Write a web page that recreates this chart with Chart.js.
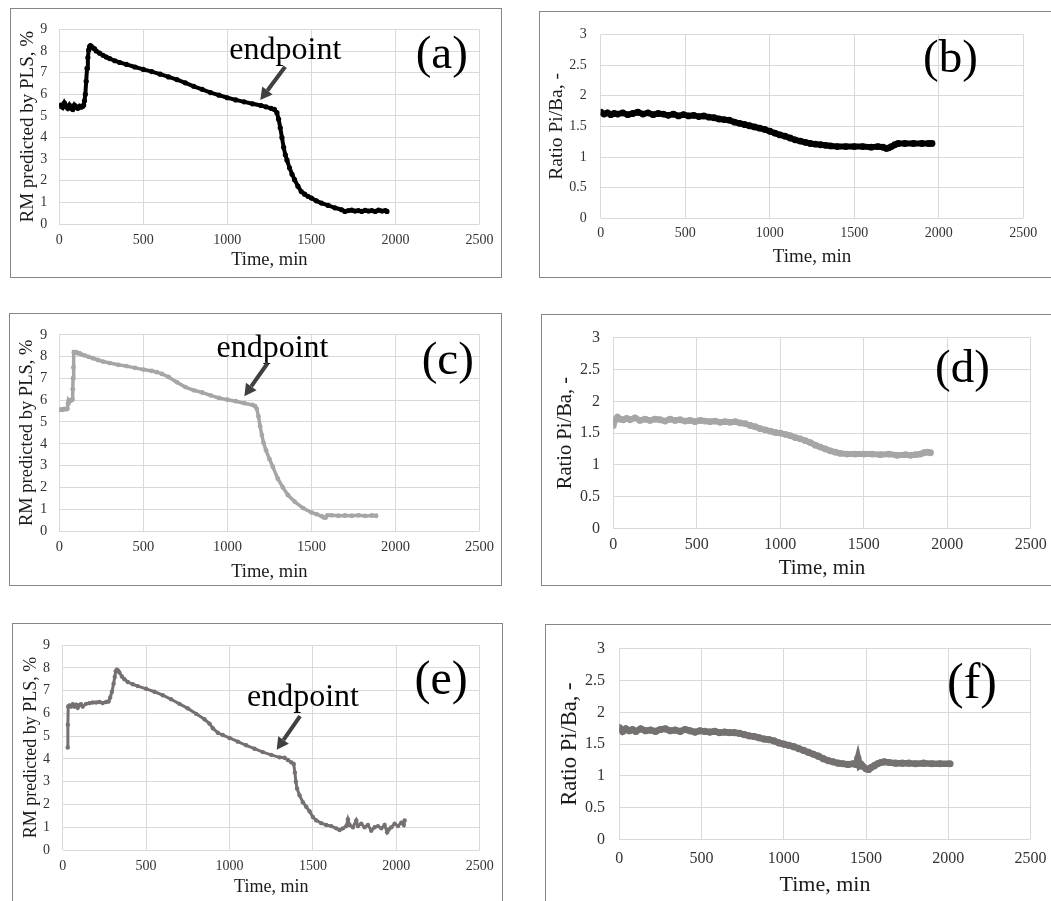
<!DOCTYPE html>
<html lang="en">
<head>
<meta charset="UTF-8">
<title>RM predicted by PLS and Pi/Ba ratio vs time</title>
<script src="https://cdn.jsdelivr.net/npm/chart.js@4.4.1/dist/chart.umd.min.js"></script>
<style>
  html, body { margin: 0; padding: 0; background: #fff; overflow: hidden; width: 1051px; height: 901px; }
  .panel { position: absolute; box-sizing: border-box; border: 1px solid #868686; background: #fff; }
  .panel canvas { display: block; }
</style>
</head>
<body>
<div class="panel" style="left:10px;top:8px;width:492px;height:270px"><canvas id="chart-a"></canvas></div>
<div class="panel" style="left:539px;top:11px;width:518px;height:267px"><canvas id="chart-b"></canvas></div>
<div class="panel" style="left:9px;top:313px;width:493px;height:273px"><canvas id="chart-c"></canvas></div>
<div class="panel" style="left:541px;top:314px;width:516px;height:272px"><canvas id="chart-d"></canvas></div>
<div class="panel" style="left:12px;top:623px;width:491px;height:283px"><canvas id="chart-e"></canvas></div>
<div class="panel" style="left:545px;top:624px;width:512px;height:282px"><canvas id="chart-f"></canvas></div>

<script>
// axis ticks
const timeTicks  = [0, 500, 1000, 1500, 2000, 2500];
const rmTicks    = [0, 1, 2, 3, 4, 5, 6, 7, 8, 9];
const ratioTicks = [0, 0.5, 1, 1.5, 2, 2.5, 3];

// batch 1 - RM (a)
const rm1Time  = [0,10,20,30,40,50,60,70,80,90,100,110,120,130,140,145,150,155,160,165,170,175,180,185,190,200,210,220,240,260,280,300,330,360,400,450,500,550,600,650,700,750,800,850,900,950,1000,1050,1100,1150,1200,1230,1260,1280,1295,1305,1315,1325,1335,1345,1355,1370,1385,1400,1420,1440,1460,1480,1500,1530,1560,1600,1640,1680,1700,1720,1740,1760,1780,1800,1820,1840,1860,1880,1900,1920,1940,1950];
const rm1Value = [5.45,5.5,5.4,5.6,5.45,5.35,5.5,5.35,5.3,5.5,5.4,5.35,5.45,5.4,5.45,5.5,5.7,6.0,6.6,7.2,7.7,8.05,8.2,8.25,8.22,8.15,8.1,8.0,7.9,7.8,7.72,7.65,7.55,7.47,7.38,7.26,7.15,7.05,6.93,6.8,6.68,6.53,6.37,6.23,6.08,5.96,5.84,5.74,5.65,5.56,5.48,5.42,5.35,5.3,5.15,4.85,4.45,4.0,3.55,3.2,2.95,2.6,2.3,2.05,1.75,1.5,1.38,1.28,1.2,1.07,0.97,0.86,0.75,0.66,0.58,0.62,0.64,0.6,0.62,0.58,0.63,0.6,0.62,0.58,0.64,0.6,0.62,0.58];

// batch 1 - Pi/Ba ratio (b)
const ratio1Time  = [0,20,40,60,80,100,130,160,190,220,250,280,310,340,370,400,430,460,490,520,550,580,610,640,670,700,730,760,790,820,850,880,910,940,970,1000,1030,1060,1090,1120,1150,1180,1210,1240,1270,1300,1330,1360,1400,1450,1500,1550,1600,1640,1670,1690,1705,1720,1740,1760,1800,1850,1900,1940,1960];
const ratio1Value = [1.73,1.70,1.72,1.69,1.71,1.70,1.72,1.69,1.71,1.73,1.70,1.72,1.69,1.71,1.70,1.68,1.70,1.67,1.69,1.67,1.68,1.66,1.67,1.65,1.64,1.62,1.61,1.60,1.57,1.55,1.53,1.51,1.49,1.47,1.45,1.42,1.39,1.36,1.34,1.31,1.28,1.26,1.24,1.22,1.21,1.20,1.19,1.18,1.17,1.17,1.17,1.17,1.16,1.17,1.16,1.14,1.15,1.17,1.20,1.22,1.22,1.22,1.22,1.22,1.22];

// batch 2 - RM (c)
const rm2Time  = [0,10,20,30,40,48,52,56,62,68,74,78,80,82,84,87,92,100,110,120,130,150,175,200,230,260,300,350,400,450,500,550,580,610,650,700,750,800,850,900,950,1000,1050,1100,1150,1165,1175,1185,1195,1205,1215,1230,1250,1270,1300,1330,1360,1400,1450,1500,1530,1560,1575,1585,1595,1620,1660,1700,1740,1780,1820,1860,1885];
const rm2Value = [5.55,5.57,5.55,5.6,5.58,5.6,5.85,6.0,5.95,6.0,6.0,6.05,6.5,7.0,7.5,8.2,8.18,8.2,8.15,8.15,8.1,8.05,7.98,7.92,7.84,7.77,7.7,7.62,7.56,7.48,7.40,7.34,7.28,7.2,7.06,6.82,6.6,6.45,6.35,6.22,6.1,6.02,5.95,5.86,5.78,5.72,5.6,5.25,4.8,4.4,4.05,3.7,3.3,2.95,2.4,2.0,1.65,1.35,1.05,0.85,0.77,0.68,0.62,0.62,0.72,0.72,0.7,0.71,0.7,0.72,0.69,0.71,0.7];

// batch 2 - Pi/Ba ratio (d)
const ratio2Time  = [0,5,15,25,40,60,80,100,130,160,190,220,250,280,310,340,370,400,430,460,490,520,550,580,610,640,670,700,730,760,790,820,850,880,910,940,970,1000,1030,1060,1090,1120,1150,1180,1210,1240,1270,1300,1330,1360,1400,1450,1500,1550,1600,1650,1700,1750,1780,1810,1840,1860,1880,1900];
const ratio2Value = [1.62,1.68,1.72,1.75,1.72,1.71,1.73,1.71,1.74,1.70,1.72,1.70,1.72,1.71,1.69,1.72,1.70,1.71,1.69,1.70,1.68,1.70,1.69,1.68,1.69,1.67,1.68,1.67,1.68,1.66,1.65,1.62,1.60,1.57,1.55,1.53,1.51,1.50,1.48,1.46,1.43,1.41,1.38,1.35,1.31,1.28,1.25,1.22,1.20,1.18,1.17,1.17,1.17,1.17,1.16,1.17,1.15,1.16,1.15,1.16,1.17,1.19,1.20,1.19];

// batch 3 - RM (e)
const rm3Time  = [30,31,33,40,50,60,70,80,90,100,110,120,140,160,180,200,220,240,260,275,285,295,305,312,318,325,332,340,355,370,390,420,450,500,550,600,650,700,750,800,850,880,900,930,960,1000,1050,1100,1150,1200,1250,1300,1330,1350,1370,1385,1392,1398,1405,1420,1440,1460,1480,1500,1520,1550,1580,1610,1640,1660,1680,1700,1710,1720,1740,1760,1770,1790,1810,1830,1850,1870,1890,1910,1930,1945,1955,1970,1990,2010,2030,2045,2050];
const rm3Value = [4.5,5.5,6.3,6.35,6.3,6.4,6.3,6.38,6.25,6.37,6.4,6.3,6.42,6.45,6.48,6.48,6.5,6.46,6.5,6.52,6.7,6.95,7.3,7.6,7.85,7.92,7.88,7.8,7.62,7.5,7.38,7.28,7.2,7.08,6.95,6.8,6.62,6.42,6.22,5.98,5.74,5.55,5.35,5.15,5.05,4.92,4.76,4.6,4.45,4.3,4.18,4.07,4.05,3.95,3.85,3.78,3.4,3.0,2.7,2.4,2.1,1.9,1.7,1.45,1.3,1.18,1.1,1.05,0.95,0.88,0.95,1.05,1.35,1.1,1.0,1.3,1.05,1.15,1.0,1.1,0.85,1.0,1.05,0.95,1.1,0.78,0.9,1.0,1.15,1.05,1.2,1.1,1.3];

// batch 3 - Pi/Ba ratio (f)
const ratio3Time  = [0,20,40,60,80,100,130,160,190,220,250,280,310,340,370,400,430,460,490,520,550,580,610,640,670,700,730,760,790,820,850,880,910,940,970,1000,1030,1060,1090,1120,1150,1180,1210,1240,1270,1300,1330,1360,1390,1420,1440,1450,1455,1460,1470,1480,1500,1515,1530,1550,1570,1590,1610,1640,1680,1720,1760,1800,1850,1900,1950,2010];
const ratio3Value = [1.76,1.70,1.74,1.71,1.73,1.70,1.74,1.71,1.72,1.70,1.73,1.74,1.71,1.72,1.70,1.73,1.71,1.69,1.71,1.70,1.69,1.70,1.68,1.69,1.68,1.68,1.67,1.65,1.63,1.62,1.60,1.58,1.57,1.55,1.52,1.50,1.48,1.46,1.43,1.40,1.37,1.34,1.31,1.27,1.24,1.22,1.20,1.19,1.18,1.19,1.18,1.28,1.22,1.16,1.18,1.15,1.11,1.10,1.13,1.16,1.19,1.21,1.22,1.21,1.20,1.20,1.20,1.19,1.20,1.19,1.19,1.19];

const FONT = '"Liberation Serif", "Times New Roman", serif';
const GRID = '#d9d9d9';

// letters, "endpoint" text and arrows, anchored in data units
const notesPlugin = {
  id: 'notes',
  afterDraw(chart, args, opts) {
    const { ctx, scales: { x, y } } = chart;
    ctx.save();
    ctx.textAlign = 'left';
    ctx.textBaseline = 'alphabetic';
    ctx.fillStyle = '#000';
    ctx.font = opts.letterSize + 'px ' + FONT;
    ctx.fillText(opts.letter, x.getPixelForValue(opts.letterAt[0]), y.getPixelForValue(opts.letterAt[1]));
    if (opts.textAt) {
      ctx.font = opts.textSize + 'px ' + FONT;
      ctx.fillText('endpoint', x.getPixelForValue(opts.textAt[0]), y.getPixelForValue(opts.textAt[1]));
      const x0 = x.getPixelForValue(opts.arrowFrom[0]), y0 = y.getPixelForValue(opts.arrowFrom[1]);
      const x1 = x.getPixelForValue(opts.arrowTo[0]),   y1 = y.getPixelForValue(opts.arrowTo[1]);
      const ang = Math.atan2(y1 - y0, x1 - x0);
      const head = 12, half = 6.5;
      const bx = x1 - head * Math.cos(ang), by = y1 - head * Math.sin(ang);
      ctx.strokeStyle = '#404040';
      ctx.fillStyle = '#404040';
      ctx.lineWidth = 4;
      ctx.beginPath();
      ctx.moveTo(x0, y0);
      ctx.lineTo(bx, by);
      ctx.stroke();
      ctx.beginPath();
      ctx.moveTo(x1, y1);
      ctx.lineTo(bx + half * Math.sin(ang), by - half * Math.cos(ang));
      ctx.lineTo(bx - half * Math.sin(ang), by + half * Math.cos(ang));
      ctx.closePath();
      ctx.fill();
    }
    ctx.restore();
  }
};

function makePanel(id, c) {
  const points = c.time.map((t, i) => ({ x: t, y: c.value[i] }));
  const yTicks = c.kind === 'rm' ? rmTicks : ratioTicks;
  return new Chart(document.getElementById(id), {
    type: 'scatter',
    data: {
      datasets: [{
        data: points,
        showLine: true,
        borderColor: c.color,
        backgroundColor: c.color,
        borderWidth: c.lw,
        pointRadius: c.pr,
        pointBorderWidth: 0,
        tension: 0
      }]
    },
    options: {
      responsive: true,
      maintainAspectRatio: false,
      animation: false,
      events: [],
      layout: { padding: { top: c.padTop, right: c.padRight, left: 0, bottom: 0 } },
      plugins: {
        legend: { display: false },
        tooltip: { enabled: false },
        notes: c.notes
      },
      scales: {
        x: {
          type: 'linear',
          min: 0, max: 2500,
          afterBuildTicks: s => { s.ticks = timeTicks.map(v => ({ value: v })); },
          afterFit: s => { s.height = c.xH; },
          grid: { color: GRID, drawTicks: false },
          border: { display: false },
          ticks: {
            autoSkip: false, maxRotation: 0,
            padding: c.xTickPad,
            color: '#333333',
            font: { family: FONT, size: c.tickSize },
            callback: v => String(v)
          },
          title: {
            display: true, text: 'Time, min', color: '#1a1a1a',
            font: { family: FONT, size: c.xTitleSize },
            padding: { top: 0, bottom: c.xTitlePad }
          }
        },
        y: {
          type: 'linear',
          min: 0, max: yTicks[yTicks.length - 1],
          afterBuildTicks: s => { s.ticks = yTicks.map(v => ({ value: v })); },
          afterFit: s => { s.width = c.yW; },
          grid: { color: GRID, drawTicks: false },
          border: { display: false },
          ticks: {
            autoSkip: false,
            padding: c.yTickPad,
            color: '#333333',
            font: { family: FONT, size: c.tickSize },
            callback: v => String(v)
          },
          title: {
            display: true,
            text: c.kind === 'rm' ? 'RM predicted by PLS, %' : 'Ratio Pi/Ba, -',
            color: '#1a1a1a',
            font: { family: FONT, size: c.yTitleSize },
            padding: { top: c.yTitlePad, bottom: 0 }
          }
        }
      }
    },
    plugins: [notesPlugin]
  });
}

makePanel('chart-a', {
  kind: 'rm', time: rm1Time, value: rm1Value, color: '#000000', lw: 4, pr: 2.6,
  yW: 48.3, padTop: 11, padRight: 20, xH: 53,
  tickSize: 14, xTickPad: 7.6, yTickPad: 12,
  xTitleSize: 18.5, xTitlePad: 5.9, yTitleSize: 19, yTitlePad: 5.9,
  notes: { letter: '(a)', letterSize: 47, letterAt: [2121, 7.23],
           textSize: 32, textAt: [1012, 7.65], arrowFrom: [1344, 7.27], arrowTo: [1196, 5.73] }
});

makePanel('chart-b', {
  kind: 'ratio', time: ratio1Time, value: ratio1Value, color: '#000000', lw: 6, pr: 3.4,
  yW: 60.7, padTop: 13.7, padRight: 32.7, xH: 58.7,
  tickSize: 14, xTickPad: 6.6, yTickPad: 14,
  xTitleSize: 19, xTitlePad: 8.9, yTitleSize: 19.5, yTitlePad: 5,
  notes: { letter: '(b)', letterSize: 47, letterAt: [1907, 2.39] }
});

makePanel('chart-c', {
  kind: 'rm', time: rm2Time, value: rm2Value, color: '#a6a6a6', lw: 3.5, pr: 2.4,
  yW: 49.3, padTop: 10.3, padRight: 20, xH: 54,
  tickSize: 14.5, xTickPad: 7, yTickPad: 12,
  xTitleSize: 18.5, xTitlePad: 2.2, yTitleSize: 18.5, yTitlePad: 5.6,
  notes: { letter: '(c)', letterSize: 47, letterAt: [2156, 7.20],
           textSize: 32, textAt: [935, 7.99], arrowFrom: [1239, 7.69], arrowTo: [1101, 6.18] }
});

makePanel('chart-d', {
  kind: 'ratio', time: ratio2Time, value: ratio2Value, color: '#a6a6a6', lw: 6, pr: 3.4,
  yW: 71.3, padTop: 10, padRight: 25.3, xH: 56.7,
  tickSize: 16, xTickPad: 7.1, yTickPad: 13.3,
  xTitleSize: 21, xTitlePad: 4.1, yTitleSize: 20.5, yTitlePad: 11.4,
  notes: { letter: '(d)', letterSize: 47, letterAt: [1927, 2.31] }
});

makePanel('chart-e', {
  kind: 'rm', time: rm3Time, value: rm3Value, color: '#767171', lw: 3, pr: 2.2,
  yW: 49.7, padTop: 9.3, padRight: 19.3, xH: 55,
  tickSize: 14, xTickPad: 8.3, yTickPad: 12.7,
  xTitleSize: 18, xTitlePad: 7.2, yTitleSize: 18, yTitlePad: 7.9,
  notes: { letter: '(e)', letterSize: 48, letterAt: [2109, 6.87],
           textSize: 32, textAt: [1105, 6.33], arrowFrom: [1423, 5.88], arrowTo: [1283, 4.40] }
});

makePanel('chart-f', {
  kind: 'ratio', time: ratio3Time, value: ratio3Value, color: '#767171', lw: 6.5, pr: 3.6,
  yW: 73.3, padTop: 11.7, padRight: 21.7, xH: 65.7,
  tickSize: 16, xTickPad: 9.4, yTickPad: 14.3,
  xTitleSize: 22, xTitlePad: 6.8, yTitleSize: 22.5, yTitlePad: 10.5,
  notes: { letter: '(f)', letterSize: 50, letterAt: [1992, 2.22] }
});
</script>
</body>
</html>
